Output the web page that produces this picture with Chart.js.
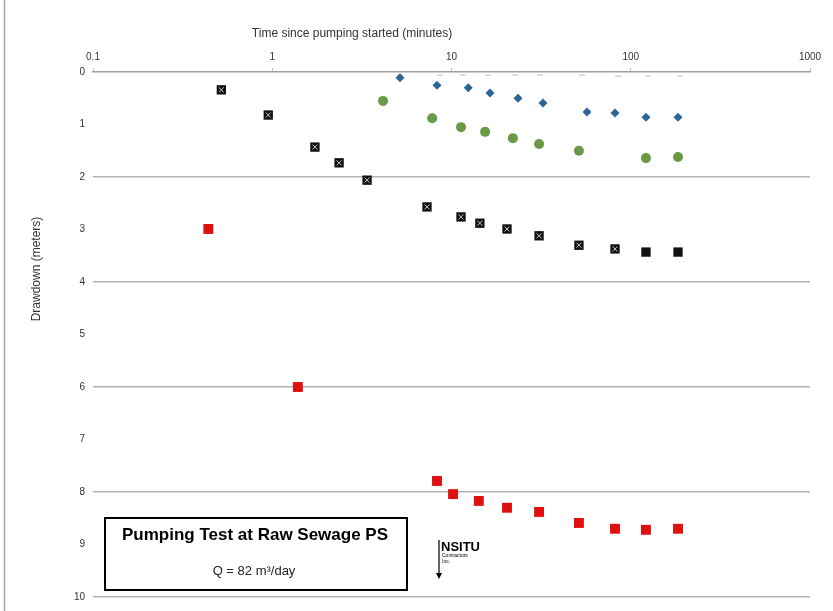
<!DOCTYPE html>
<html>
<head>
<meta charset="utf-8">
<title>Pumping Test at Raw Sewage PS</title>
<script src="https://cdn.jsdelivr.net/npm/chart.js@4.4.1/dist/chart.umd.min.js"></script>
<style>
  html, body { margin: 0; padding: 0; background: #fff; }
  #wrap { width: 833px; height: 611px; }
</style>
</head>
<body>
<div id="wrap"><canvas id="chart" width="833" height="611"></canvas></div>
<script>
// Pumping test drawdown vs time (log time axis on top, drawdown increasing downwards)

// Data
const xTickValues = [0.1, 1, 10, 100, 1000];
const xTickLabels = ['0.1', '1', '10', '100', '1000'];

const blackTime = [0.52, 0.95, 1.73, 2.36, 3.38, 7.3, 11.3, 14.4, 20.4, 30.8, 51.4, 81.7, 121.6, 183.5];
const blackDraw = [0.34, 0.82, 1.43, 1.73, 2.06, 2.57, 2.76, 2.88, 2.99, 3.12, 3.30, 3.37, 3.43, 3.43];

const greenTime = [4.15, 7.8, 11.3, 15.4, 22.0, 30.8, 51.4, 121.6, 183.5];
const greenDraw = [0.55, 0.88, 1.05, 1.14, 1.26, 1.37, 1.50, 1.64, 1.62];

const blueTime = [5.16, 8.3, 12.4, 16.4, 23.5, 32.4, 57.0, 81.7, 121.6, 183.5];
const blueDraw = [0.11, 0.25, 0.30, 0.40, 0.50, 0.59, 0.76, 0.78, 0.86, 0.86];

const redTime = [0.44, 1.39, 8.3, 10.2, 14.2, 20.4, 30.8, 51.4, 81.7, 121.6, 183.5];
const redDraw = [2.99, 6.0, 7.79, 8.04, 8.17, 8.30, 8.38, 8.59, 8.70, 8.72, 8.70];

// faint marks sitting just under the time axis
const faintTime = [8.6, 11.6, 16.0, 22.6, 31.2, 53.5, 84.9, 125, 188];
const faintDraw = [0.06, 0.06, 0.06, 0.06, 0.06, 0.06, 0.08, 0.08, 0.08];

const toPts = (xs, ys) => xs.map((x, i) => ({ x: x, y: ys[i] }));

const FONT = '"Liberation Sans", Arial, sans-serif';
const qs = sel => document.querySelector(sel);

// titles, frame, text box and logo
const decor = {
  id: 'decor',
  afterDraw(chart){
    const c = chart.ctx;
    c.save();
    // left frame line
    c.strokeStyle = '#a8a8a8';
    c.lineWidth = 1.5;
    c.beginPath(); c.moveTo(4.5, 0); c.lineTo(4.5, 611); c.stroke();

    // axis titles
    c.fillStyle = '#333';
    c.font = '12px ' + FONT;
    c.textAlign = 'center';
    c.textBaseline = 'middle';
    c.fillText('Time since pumping started (minutes)', 352, 34);
    c.save();
    c.translate(37, 269);
    c.rotate(-Math.PI / 2);
    c.fillText('Drawdown (meters)', 0, 0);
    c.restore();

    // text box
    c.fillStyle = '#fff';
    c.fillRect(105, 518, 302, 72);
    c.strokeStyle = '#000';
    c.lineWidth = 2;
    c.strokeRect(105, 518, 302, 72);
    c.fillStyle = '#000';
    c.font = 'bold 17px ' + FONT;
    c.fillText('Pumping Test at Raw Sewage PS', 255, 535);
    c.fillStyle = '#222';
    c.font = '13px ' + FONT;
    c.fillText('Q = 82 m³/day', 254, 571);

    // logo
    c.strokeStyle = '#000';
    c.lineWidth = 1.2;
    c.beginPath(); c.moveTo(439, 540); c.lineTo(439, 576); c.stroke();
    c.beginPath(); c.moveTo(436, 573); c.lineTo(439, 579); c.lineTo(442, 573); c.closePath();
    c.fillStyle = '#000'; c.fill();
    c.textAlign = 'left';
    c.textBaseline = 'alphabetic';
    c.font = 'bold 13px "Liberation Sans Narrow", ' + FONT;
    c.fillText('NSITU', 441, 551);
    c.font = '5px ' + FONT;
    c.fillText('Contractors', 442, 557);
    c.fillText('Inc.', 442, 563);
    c.restore();
  }
};

// note: lower dataset index is painted on top
const chart = new Chart(qs('#chart').getContext('2d'), {
  type: 'scatter',
  data: {
    datasets: [
      { label: 'faint', data: toPts(faintTime, faintDraw), pointStyle: 'line',
        pointRadius: 3, borderColor: '#d8cfcf', borderWidth: 1.5, backgroundColor: '#d8cfcf' },
      { label: 'blue', data: toPts(blueTime, blueDraw), pointStyle: 'rectRot',
        pointRadius: 4.5, backgroundColor: '#2b6496', borderColor: '#2b6496', borderWidth: 0 },
      { label: 'green', data: toPts(greenTime, greenDraw), pointStyle: 'circle',
        pointRadius: 5, backgroundColor: '#6a9a45', borderColor: '#6a9a45', borderWidth: 0 },
      { label: 'blackX', data: toPts(blackTime, blackDraw), pointStyle: 'crossRot',
        pointRadius: ctx => ctx.dataIndex < 12 ? 3.5 : 0,
        borderColor: '#c8c8c8', backgroundColor: '#c8c8c8', borderWidth: 1 },
      { label: 'black', data: toPts(blackTime, blackDraw), pointStyle: 'rect',
        pointRadius: 6.6, backgroundColor: '#111', borderColor: '#111', borderWidth: 0 },
      { label: 'red', data: toPts(redTime, redDraw), pointStyle: 'rect',
        pointRadius: 7, backgroundColor: '#e01010', borderColor: '#e01010', borderWidth: 0 }
    ]
  },
  options: {
    responsive: false,
    animation: false,
    devicePixelRatio: 1,
    layout: { padding: { left: 0, right: 23, top: 0, bottom: 14 } },
    plugins: { legend: { display: false }, tooltip: { enabled: false } },
    scales: {
      x: {
        type: 'logarithmic',
        position: 'top',
        min: 0.1,
        max: 1000,
        afterBuildTicks: s => { s.ticks = xTickValues.map(v => ({ value: v })); },
        afterFit: s => { s.height = 72; },
        ticks: {
          autoSkip: false,
          maxRotation: 0,
          padding: 5,
          color: '#333',
          font: { family: FONT, size: 10 },
          callback: v => xTickLabels[xTickValues.indexOf(v)] ?? ''
        },
        grid: { display: true, drawOnChartArea: false, drawTicks: true, tickLength: 4, color: '#c4c4c4' },
        border: { display: true, color: '#a0a0a0', width: 1.5 }
      },
      y: {
        type: 'linear',
        reverse: true,
        min: 0,
        max: 10,
        afterFit: s => { s.width = 93; },
        ticks: {
          stepSize: 1,
          padding: 8,
          color: '#333',
          font: { family: FONT, size: 10 }
        },
        grid: {
          drawTicks: false,
          lineWidth: 1.5,
          color: ctx => (ctx.tick && ctx.tick.value % 2 === 0 && ctx.tick.value > 0) ? '#b3b3b3' : 'rgba(0,0,0,0)'
        },
        border: { display: false }
      }
    }
  },
  plugins: [decor]
});
</script>
</body>
</html>
